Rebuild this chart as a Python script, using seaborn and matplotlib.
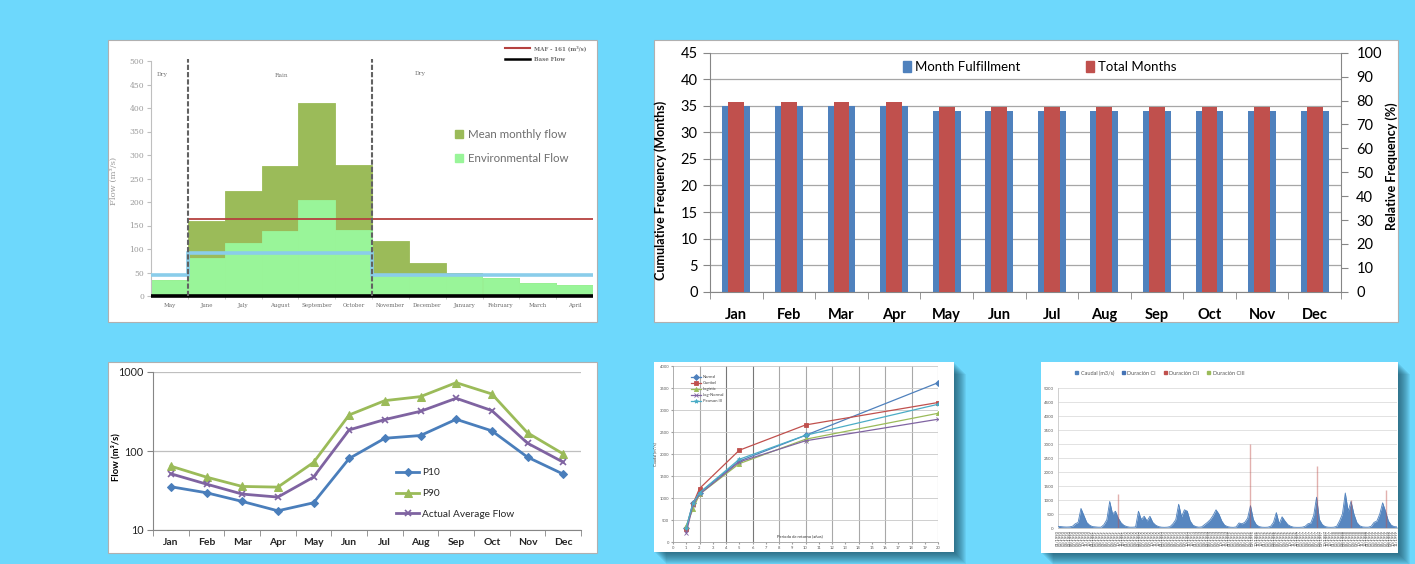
import matplotlib
matplotlib.use('Agg')
import matplotlib.pyplot as plt
import matplotlib.patches as mpatches
from matplotlib.lines import Line2D
from matplotlib.ticker import FixedLocator, NullLocator, FuncFormatter
import numpy as np
import pandas as pd
import seaborn as sns

plt.rcParams['font.family'] = ['Lato', 'DejaVu Sans']

W, H = 1415, 564
BG = '#6DD8FC'

# --- top left: monthly flow regime (hydrological year May-April)
season_months = ['May', 'June', 'July', 'August', 'September', 'October',
                 'November', 'December', 'January', 'February', 'March', 'April']
mean_flow = [35, 160, 223, 277, 410, 278, 117, 71, 50, 38, 28, 24]
env_flow = [35, 80, 112, 138, 205, 140, 44, 44, 44, 38, 28, 24]
threshold_flow = [45, 92, 92, 92, 92, 92, 45, 45, 45, 45, 45, 45]
maf = 163

# --- top right: fulfilment per month
months = ['Jan', 'Feb', 'Mar', 'Apr', 'May', 'Jun', 'Jul', 'Aug', 'Sep', 'Oct', 'Nov', 'Dec']
fulfilled_months = [35, 35, 35, 35, 34, 34, 34, 34, 34, 34, 34, 34]
relative_pct = [79.5, 79.5, 79.5, 79.5, 77.3, 77.3, 77.3, 77.3, 77.3, 77.3, 77.3, 77.3]

# --- bottom left: percentiles (log scale)
p10 = [35.3, 29.6, 23.0, 17.5, 22.1, 80.4, 145, 157, 252, 180, 83.6, 51]
p90 = [64.3, 46.7, 35.6, 34.9, 71.6, 286, 434, 488, 733, 527, 170, 92]
avg_flow = [51.5, 38.1, 28.5, 26.1, 46.7, 185, 250, 318, 465, 325, 125.6, 72.3]

# --- bottom middle: flood frequency
return_period = [1, 1.5, 2, 5, 10, 20]
q_normal = [326, 880, 1120, 1840, 2425, 3620]
q_gumbel = [300, 860, 1215, 2085, 2660, 3170]
q_logistic = [374, 740, 1085, 1780, 2335, 2925]
q_lognormal = [206, 835, 1085, 1820, 2300, 2790]
q_pearson = [326, 880, 1120, 1880, 2425, 3130]

# --- bottom right: monthly discharge series
caudal = [60, 50, 40, 35, 40, 60,
          150, 200, 700, 450, 200, 100, 50,
          40, 30, 30,
          120, 300, 950, 500, 600, 350, 180, 90, 50,
          30, 30, 40,
          600, 300, 420, 250, 420, 200, 100, 50,
          30, 25, 30, 50,
          150, 300, 850, 400, 650, 600, 250, 100, 50,
          30, 40,
          120, 200, 300, 450, 650, 500, 250, 100, 50,
          30, 25, 40,
          180, 150, 200, 350, 800, 300, 120, 50,
          30, 25, 30, 60,
          200, 550, 150, 400, 250, 120, 60,
          30, 25, 25, 30, 60,
          150, 180, 450, 1100, 300, 120, 50,
          30, 25, 30, 60,
          250, 500, 1250, 600, 950, 500, 200, 80,
          40, 30, 30, 60,
          200, 250, 500, 900, 600, 250, 100, 50, 40]
cii_index = [21, 67, 90, 102, 114]
cii_peak = [1200, 3000, 2200, 1000, 1350]
series_labels = pd.date_range('1990-01-01', periods=len(caudal), freq='MS').strftime('%m/%Y').tolist()


def box(x0, y0, x1, y1):
    return [x0 / W, 1 - y1 / H, (x1 - x0) / W, (y1 - y0) / H]


def card(fig, x0, y0, x1, y1, shadow=False):
    if shadow:
        for k in range(1, 13):
            fig.patches.append(mpatches.Rectangle(
                ((x0 + k) / W, 1 - (y1 + k) / H), (x1 - x0) / W, (y1 - y0) / H,
                transform=fig.transFigure, facecolor='#0B3547', edgecolor='none',
                alpha=0.07, zorder=-3))
    fig.patches.append(mpatches.Rectangle(
        (x0 / W, 1 - y1 / H), (x1 - x0) / W, (y1 - y0) / H,
        transform=fig.transFigure, facecolor='white',
        edgecolor='none' if shadow else '#B0B0B0', lw=0.8, zorder=-2))


fig = plt.figure(figsize=(W / 100, H / 100), dpi=100, facecolor=BG)
card(fig, 108, 40, 597, 322)
card(fig, 654, 40, 1398, 322)
card(fig, 108, 362, 597, 553)
card(fig, 654, 362, 954, 552, shadow=True)
card(fig, 1041, 362, 1398, 553, shadow=True)

# ================= panel 1 =================
ax = fig.add_axes(box(151, 61, 593, 296))
sns.barplot(x=season_months, y=mean_flow, color='#9BBB59', width=1, saturation=1,
            edgecolor='#9BBB59', linewidth=0.6, ax=ax)
sns.barplot(x=season_months, y=env_flow, color='#99F599', width=1, saturation=1,
            edgecolor='#99F599', linewidth=0.6, ax=ax)
n1 = len(season_months)
edges = np.arange(n1 + 1) - 0.5
ax.stairs(threshold_flow, edges, baseline=None, color='#8ACDEA', lw=2.6, zorder=4)
ax.hlines(maf, 0.5, n1 - 0.5, color='#B5413F', lw=1.3, zorder=5)
ax.hlines(0, -0.5, n1 - 0.5, color='black', lw=2.6, zorder=6, clip_on=False)
ax.vlines([0.5, 5.5], 0, 505, colors='#626262', linestyles=(0, (2.5, 1)), lw=1.5,
          zorder=7, clip_on=False)
ax.text(-0.35, 471, 'Dry', fontsize=4.2, family='DejaVu Serif', color='#777777', va='center')
ax.text(3.05, 470, 'Rain', fontsize=4.2, family='DejaVu Serif', color='#777777', va='center', ha='center')
ax.text(6.8, 474, 'Dry', fontsize=4.2, family='DejaVu Serif', color='#777777', va='center', ha='center')
ax.set_xlim(-0.5, n1 - 0.5)
ax.set_ylim(0, 500)
ax.set_yticks(range(0, 501, 50))
ax.tick_params(axis='y', labelsize=5.5, labelcolor='#9A9A9A', color='#BFBFBF', length=3, pad=2,
               labelfontfamily='DejaVu Serif')
ax.tick_params(axis='x', labelsize=4.0, labelcolor='#6A6A6A', length=0, pad=5,
               labelfontfamily='DejaVu Serif')
ax.set_xticks(edges[1:-1], minor=True)
ax.tick_params(axis='x', which='minor', length=2.5, color='#BFBFBF')
for s in ['top', 'right', 'bottom']:
    ax.spines[s].set_visible(False)
ax.spines['left'].set_color('#BFBFBF')
ax.set_ylabel('Flow (m³/s)', fontsize=6, color='#9A9A9A', family='DejaVu Serif')
ax.yaxis.set_label_coords(-0.075, 0.49)
leg = ax.legend(handles=[mpatches.Patch(color='#9BBB59'), mpatches.Patch(color='#99F599')],
                labels=['Mean monthly flow', 'Environmental Flow'],
                loc='center left', bbox_to_anchor=(455 / W, 1 - 146.5 / H),
                bbox_transform=fig.transFigure, frameon=False, fontsize=8.3,
                labelcolor='#6E6E6E', handlelength=0.7, handleheight=0.7,
                handletextpad=0.4, labelspacing=1.2, borderpad=0, borderaxespad=0)
ax.add_artist(leg)
ax.legend(handles=[Line2D([], [], color='#B5413F', lw=1.5), Line2D([], [], color='black', lw=1.8)],
          labels=['MAF - 161 (m³/s)', 'Base Flow'], loc='center left',
          bbox_to_anchor=(505 / W, 1 - 53.5 / H), bbox_transform=fig.transFigure,
          frameon=False, prop={'family': 'DejaVu Serif', 'size': 4, 'weight': 'bold'},
          labelcolor='#6E6E6E', handlelength=4.5, handletextpad=0.7, labelspacing=1.1,
          borderpad=0, borderaxespad=0)

# ================= panel 2 =================
ax = fig.add_axes(box(710, 52.7, 1341, 291.7))
sns.barplot(x=months, y=fulfilled_months, color='#4F81BD', width=0.53, saturation=1,
            linewidth=0, ax=ax, zorder=2)
ax.set_ylim(0, 45)
ax.set_yticks(range(0, 46, 5))
ax.yaxis.grid(True, color='#A6A6A6', lw=0.9)
ax.set_axisbelow(True)
axr = ax.twinx()
sns.barplot(x=months, y=relative_pct, color='#C0504D', width=0.30, saturation=1,
            linewidth=0, ax=axr, zorder=3)
axr.set_ylim(0, 100)
axr.set_yticks(range(0, 101, 10))
ax.set_xlim(-0.5, 11.5)
ax.tick_params(axis='y', labelsize=10.5, length=5, color='#868686', pad=4)
axr.tick_params(axis='y', labelsize=10.5, length=5, color='#868686', pad=6)
ax.tick_params(axis='x', length=0, labelsize=10.5, pad=12)
for t in ax.get_xticklabels():
    t.set_fontweight('bold')
ax.set_xticks(np.arange(-0.5, 12, 1), minor=True)
ax.tick_params(axis='x', which='minor', length=5, color='#868686')
for s in ['top', 'right']:
    ax.spines[s].set_visible(False)
for s in ['top', 'left', 'bottom']:
    axr.spines[s].set_visible(False)
ax.spines['left'].set_color('#868686')
ax.spines['bottom'].set_color('#868686')
axr.spines['right'].set_color('#868686')
ax.set_ylabel('Cumulative Frequency (Months)', fontsize=9, fontweight='bold')
ax.yaxis.set_label_coords((667 - 710) / 631, 0.425)
axr.set_ylabel('Relative Frequency (%)', fontsize=9, fontweight='bold', rotation=90)
axr.yaxis.set_label_coords((1385 - 710) / 631, 0.524)
axr.legend(handles=[mpatches.Patch(color='#4F81BD'), mpatches.Patch(color='#C0504D')],
           labels=['Month Fulfillment', 'Total Months'], ncol=2, loc='center left',
           bbox_to_anchor=(903 / W, 1 - 66.7 / H), bbox_transform=fig.transFigure,
           frameon=False, fontsize=9.5, handlelength=0.6, handleheight=0.9,
           handletextpad=0.3, columnspacing=5.0, borderpad=0, borderaxespad=0)

# ================= panel 3 =================
ax = fig.add_axes(box(153, 372, 581, 530))
sns.lineplot(x=months, y=p10, sort=False, color='#4A7EBB', marker='D', markersize=4.5,
             mec='#4A7EBB', lw=2, label='P10', ax=ax)
sns.lineplot(x=months, y=p90, sort=False, color='#9BBB59', marker='^', markersize=5.5,
             mec='#9BBB59', lw=2, label='P90', ax=ax)
sns.lineplot(x=months, y=avg_flow, sort=False, color='#7F63A1', marker='x', markersize=5,
             mec='#7F63A1', mew=1.2, lw=2, label='Actual Average Flow', ax=ax)
ax.set_yscale('log')
ax.set_ylim(10, 1000)
ax.set_xlim(-0.5, 11.5)
ax.yaxis.set_major_locator(FixedLocator([10, 100, 1000]))
ax.yaxis.set_minor_locator(NullLocator())
ax.yaxis.set_major_formatter(FuncFormatter(lambda v, p: f'{v:g}'))
ax.yaxis.grid(True, color='#BFBFBF', lw=0.9)
ax.set_axisbelow(True)
ax.tick_params(axis='y', labelsize=7.8, length=4, color='#868686', pad=3, labelcolor='#262626')
ax.tick_params(axis='x', length=0, labelsize=7.5, pad=6, labelcolor='#262626')
for t in ax.get_xticklabels():
    t.set_fontweight('bold')
ax.set_xticks(np.arange(-0.5, 12, 1), minor=True)
ax.tick_params(axis='x', which='minor', length=4, color='#868686')
for s in ['top', 'right']:
    ax.spines[s].set_visible(False)
ax.spines['left'].set_color('#868686')
ax.spines['bottom'].set_color('#868686')
ax.set_xlabel('')
ax.set_ylabel('Flow (m³/s)', fontsize=6.8, fontweight='bold')
ax.yaxis.set_label_coords(-0.075, 0.46)
ax.legend(loc='center left', bbox_to_anchor=(396 / W, 1 - 493.5 / H),
          bbox_transform=fig.transFigure, frameon=False, fontsize=7.3,
          labelcolor='#262626', handlelength=2.3, labelspacing=1.15,
          handletextpad=0.3, borderpad=0, borderaxespad=0)

# ================= panel 4 =================
ax = fig.add_axes(box(673, 366, 938, 542))
series4 = [('Normal', q_normal, '#4F81BD', 'D'),
           ('Gumbel', q_gumbel, '#C0504D', 's'),
           ('Logistic', q_logistic, '#9BBB59', '^'),
           ('Log-Normal', q_lognormal, '#8064A2', 'x'),
           ('Pearson III', q_pearson, '#4BACC6', '*')]
for name, vals, col, mk in series4:
    sns.lineplot(x=return_period, y=vals, color=col, marker=mk, markersize=3,
                 mec=col, mew=0.6, lw=0.9, label=name, ax=ax)
ax.set_xlim(0, 20)
ax.set_ylim(0, 4000)
ax.set_xticks(range(0, 21))
ax.set_yticks(range(0, 4001, 500))
for v in range(2, 21, 2):
    ax.axvline(v, color='#777777' if v in (4, 6) else '#A8A8A8', lw=0.8, zorder=0)
ax.yaxis.grid(True, color='#C8C8C8', lw=0.6)
ax.set_axisbelow(True)
ax.tick_params(labelsize=3, length=1.2, color='#A0A0A0', labelcolor='#595959', pad=1.5)
for s in ['top', 'right']:
    ax.spines[s].set_visible(False)
for s in ['left', 'bottom']:
    ax.spines[s].set_color('#A0A0A0')
    ax.spines[s].set_linewidth(0.6)
ax.set_ylabel('Caudal (m³/s)', fontsize=3, color='#404040')
ax.yaxis.set_label_coords(-0.06, 0.5)
ax.text(0.479, 0.034, 'Periodo de retorno (años)', transform=ax.transAxes, fontsize=3,
        color='#303030', ha='center', va='center')
ax.legend(loc='upper left', bbox_to_anchor=(691 / W, 1 - 375 / H),
          bbox_transform=fig.transFigure, frameon=False, fontsize=3,
          labelcolor='#404040', handlelength=2.3, labelspacing=0.5,
          handletextpad=0.5, borderpad=0, borderaxespad=0)

# ================= panel 5 =================
ax = fig.add_axes(box(1058, 388, 1397, 528))
idx = np.arange(len(caudal))
ax.fill_between(idx, caudal, color='#4F81BD', lw=0, alpha=0.95, zorder=2)
sns.lineplot(x=idx, y=caudal, color='#4F81BD', lw=0.6, ax=ax, zorder=3)
ax.vlines(cii_index, 0, cii_peak, color='#C0504D', lw=1.0, alpha=0.45, zorder=4)
ax.set_xlim(0, len(caudal) - 1)
ax.set_ylim(0, 5000)
ax.set_yticks(range(0, 5001, 500))
ax.set_xticks(idx)
ax.set_xticklabels(series_labels, rotation=90)
ax.yaxis.grid(True, color='#DDDDDD', lw=0.6)
ax.set_axisbelow(True)
ax.tick_params(axis='y', labelsize=3.2, length=0, pad=3, labelcolor='#595959')
ax.tick_params(axis='x', labelsize=2.9, length=0, pad=1.5, labelcolor='#404040')
for s in ['top', 'right']:
    ax.spines[s].set_visible(False)
for s in ['left', 'bottom']:
    ax.spines[s].set_color('#C8C8C8')
    ax.spines[s].set_linewidth(0.6)
ax.legend(handles=[mpatches.Patch(color='#4F81BD'), mpatches.Patch(color='#4473B5'),
                   mpatches.Patch(color='#C0504D'), mpatches.Patch(color='#9BBB59')],
          labels=['Caudal (m3/s)', 'Duración CI', 'Duración CII', 'Duración CIII'],
          ncol=4, loc='center left', bbox_to_anchor=(1075 / W, 1 - 373 / H),
          bbox_transform=fig.transFigure, frameon=False, fontsize=4,
          labelcolor='#595959', handlelength=0.6, handleheight=0.6,
          handletextpad=0.4, columnspacing=1.4, borderpad=0, borderaxespad=0)

fig.savefig('out.png', dpi=100, facecolor=BG)
